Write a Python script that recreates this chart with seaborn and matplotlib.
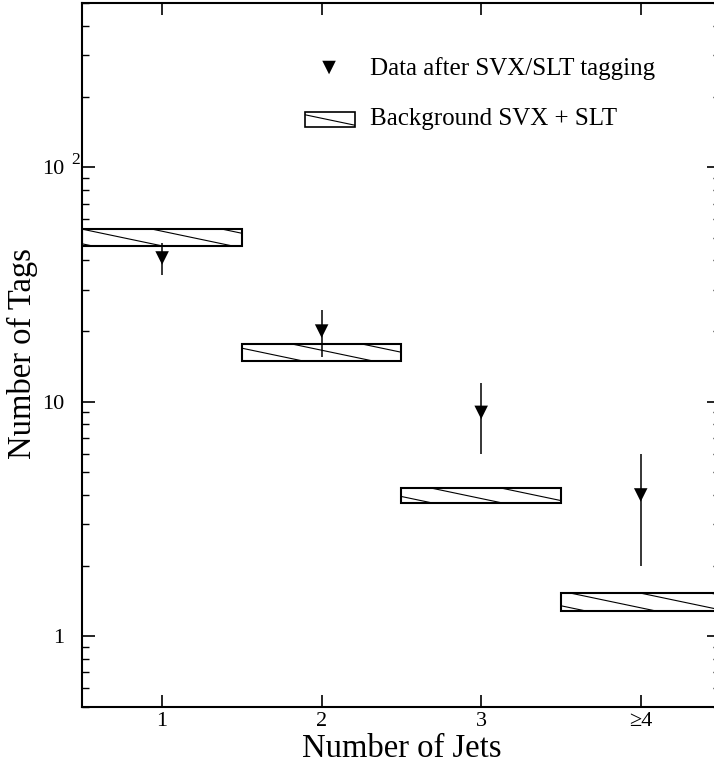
import matplotlib
matplotlib.use("Agg")
import numpy as np
import pandas as pd
import seaborn as sns
from matplotlib import pyplot as plt
from matplotlib.patches import Rectangle

# Values.
jet_bins = [1, 2, 3, 4]
jet_labels = ["1", "2", "3", "\u22654"]
data_tags = [41, 20, 9, 4]
data_lo = [34.6, 15.5, 6.0, 2.0]
data_hi = [47.4, 24.5, 12.0, 6.0]
bkg_lo = [46.3, 14.95, 3.68, 1.28]
bkg_hi = [54.4, 17.6, 4.27, 1.52]

HATCH_DX = 0.1097   # spacing of hatch lines, axes fraction
HATCH_SLOPE = 0.19  # drop per unit x, axes fraction


def hatch_patch(ax, patch):
    # Shallow single-line hatch, anchored on the patch top edge.
    to_axes = patch.get_data_transform() + ax.transAxes.inverted()
    (x0, y0), (x1, y1) = to_axes.transform(patch.get_bbox().get_points())
    top, bot = max(y0, y1), min(y0, y1)
    run = (top - bot) / HATCH_SLOPE
    k0 = int(np.floor((x0 - run) / HATCH_DX)) - 1
    k1 = int(np.ceil(x1 / HATCH_DX)) + 1
    for k in range(k0, k1 + 1):
        xs = k * HATCH_DX
        ln, = ax.plot([xs, xs + run], [top, bot], color="black", lw=0.8,
                      transform=ax.transAxes, zorder=2.5)
        ln.set_clip_path(patch)


def main():
    sns.set_style("ticks")
    plt.rcParams["font.family"] = ["Liberation Serif", "DejaVu Serif"]
    plt.rcParams["text.color"] = "black"
    plt.rcParams["axes.labelcolor"] = "black"
    plt.rcParams["xtick.color"] = "black"
    plt.rcParams["ytick.color"] = "black"

    fig = plt.figure(figsize=(7.14, 7.67), dpi=100)
    ax = fig.add_axes([0.1153, 0.0786, 0.8938, 0.9171])
    ax.set_yscale("log")
    ax.set_xlim(0.5, 4.5)
    ax.set_ylim(0.5, 500)

    # Background boxes.
    heights = np.array(bkg_hi) - np.array(bkg_lo)
    bars = ax.bar(jet_bins, heights, bottom=bkg_lo, width=1.0, color="white",
                  edgecolor="black", linewidth=1.5, zorder=2)
    for bar in bars:
        hatch_patch(ax, bar)

    # Data points with errors.
    ax.vlines(jet_bins, data_lo, data_hi, color="black", lw=1.1, zorder=3)
    df = pd.DataFrame({"jets": jet_bins, "tags": data_tags})
    sns.scatterplot(data=df, x="jets", y="tags", marker="v", s=95,
                    color="black", edgecolor="none", zorder=4, ax=ax)

    # Axes styling.
    for side in ["left", "bottom", "top"]:
        ax.spines[side].set_linewidth(1.5)
        ax.spines[side].set_color("black")
    ax.spines["right"].set_visible(False)
    ax.set_xticks(jet_bins)
    ax.set_xticklabels(jet_labels)
    ax.set_yticks([1, 10, 100])
    ax.set_yticklabels(["1", "10", "10"])
    ax.tick_params(axis="x", which="major", direction="in", length=8.6,
                   width=1.2, top=True, labelsize=16, pad=4)
    ax.tick_params(axis="x", which="minor", bottom=False, top=False)
    ax.tick_params(axis="y", which="major", direction="in", length=9.2,
                   width=1.2, right=True, labelsize=16, pad=13)
    ax.tick_params(axis="y", which="minor", direction="in", length=5,
                   width=1.0, right=True)
    ax.annotate("2", xy=(-0.0175, 100), xycoords=ax.get_yaxis_transform(),
                xytext=(0, 5), textcoords="offset points", fontsize=12.5,
                ha="left", va="center")

    ax.set_xlabel("Number of Jets", fontsize=23.5)
    ax.set_ylabel("Number of Tags", fontsize=23.5)
    ax.xaxis.set_label_coords(0.5, -0.038)
    ax.yaxis.set_label_coords(-0.07, 0.502)

    # Legend drawn by hand so the patch carries the same hatch.
    ax.scatter([0.3866], [0.9087], marker="v", s=95, color="black",
               edgecolor="none", transform=ax.transAxes, zorder=4)
    ax.text(0.4508, 0.898, "Data after SVX/SLT tagging", fontsize=18,
            transform=ax.transAxes, va="baseline")
    leg_box = Rectangle((0.349, 0.824), 0.078, 0.0213, transform=ax.transAxes,
                        facecolor="white", edgecolor="black", lw=1.2, zorder=2)
    ax.add_patch(leg_box)
    hatch_patch(ax, leg_box)
    ax.text(0.4508, 0.827, "Background SVX + SLT", fontsize=18,
            transform=ax.transAxes, va="baseline")

    fig.savefig("out.png", dpi=100)


if __name__ == "__main__":
    main()
